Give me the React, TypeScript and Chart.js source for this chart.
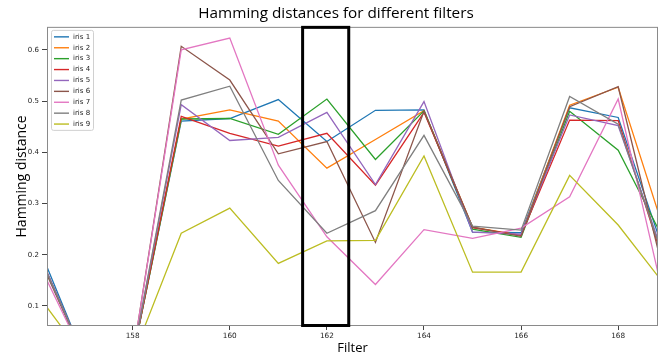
import React, { useEffect, useRef } from "react";
import { Chart, registerables } from "chart.js";

Chart.register(...registerables);

// ---- data ----
const filters = [156, 157, 158, 159, 160, 161, 162, 163, 164, 165, 166, 167, 168, 169];
const seriesLabels = ["iris 1", "iris 2", "iris 3", "iris 4", "iris 5", "iris 6", "iris 7", "iris 8", "iris 9"];
const iris1 = [0.23, 0, 0, 0.461, 0.466, 0.503, 0.421, 0.482, 0.483, 0.244, 0.243, 0.487, 0.468, 0.19];
const iris2 = [0.215, 0, 0, 0.465, 0.483, 0.461, 0.369, 0.425, 0.481, 0.254, 0.238, 0.492, 0.527, 0.231];
const iris3 = [0.215, 0, 0, 0.465, 0.466, 0.435, 0.504, 0.386, 0.481, 0.25, 0.234, 0.48, 0.404, 0.218];
const iris4 = [0.216, 0, 0, 0.47, 0.437, 0.412, 0.437, 0.336, 0.478, 0.253, 0.238, 0.463, 0.462, 0.167];
const iris5 = [0.218, 0, 0, 0.493, 0.423, 0.429, 0.478, 0.337, 0.499, 0.244, 0.24, 0.473, 0.452, 0.181];
const iris6 = [0.21, 0, 0, 0.607, 0.541, 0.397, 0.421, 0.224, 0.48, 0.254, 0.236, 0.489, 0.528, 0.14];
const iris7 = [0.196, 0, 0, 0.6, 0.623, 0.375, 0.235, 0.142, 0.249, 0.232, 0.252, 0.313, 0.504, 0.09];
const iris8 = [0.215, 0, 0, 0.502, 0.529, 0.345, 0.242, 0.286, 0.433, 0.256, 0.248, 0.509, 0.455, 0.175];
const iris9 = [0.127, 0, 0, 0.242, 0.291, 0.183, 0.227, 0.228, 0.393, 0.166, 0.166, 0.355, 0.258, 0.136];
const seriesValues = [iris1, iris2, iris3, iris4, iris5, iris6, iris7, iris8, iris9];
const xTickValues = [158, 160, 162, 164, 166, 168];
const yTickValues = [0.1, 0.2, 0.3, 0.4, 0.5, 0.6];
const highlightRange = [161.5, 162.45];

const colors = ["#1f77b4", "#ff7f0e", "#2ca02c", "#d62728", "#9467bd", "#8c564b", "#e377c2", "#7f7f7f", "#bcbd22"];

const overlayPlugin = {
  id: "overlay",
  afterDatasetsDraw(chart: any) {
    const { ctx, chartArea: a, scales } = chart;
    ctx.save();
    // spines
    ctx.strokeStyle = "#8a8a8a";
    ctx.lineWidth = 1;
    ctx.strokeRect(a.left + 0.5, a.top + 0.5, a.right - a.left - 1, a.bottom - a.top - 1);
    // highlight rectangle
    const x0 = scales.x.getPixelForValue(highlightRange[0]);
    const x1 = scales.x.getPixelForValue(highlightRange[1]);
    ctx.strokeStyle = "#000";
    ctx.lineWidth = 3;
    ctx.strokeRect(x0, a.top + 0.5, x1 - x0, a.bottom - a.top - 1);
    // legend
    const lx = a.left + 4, ly = a.top + 3, lw = 42, lh = 100;
    ctx.fillStyle = "rgba(255,255,255,0.85)";
    ctx.strokeStyle = "#d0d0d0";
    ctx.lineWidth = 1;
    ctx.beginPath();
    ctx.roundRect(lx + 0.5, ly + 0.5, lw, lh, 2);
    ctx.fill();
    ctx.stroke();
    ctx.font = "7px 'DejaVu Sans'";
    ctx.textBaseline = "middle";
    ctx.textAlign = "left";
    seriesLabels.forEach((label, i) => {
      const y = ly + 7 + i * 10.9;
      ctx.strokeStyle = colors[i];
      ctx.lineWidth = 1.4;
      ctx.beginPath();
      ctx.moveTo(lx + 3, y);
      ctx.lineTo(lx + 18, y);
      ctx.stroke();
      ctx.fillStyle = "#222";
      ctx.fillText(label, lx + 22, y);
    });
    ctx.restore();
  },
};

export default function App() {
  const canvasRef = useRef<HTMLCanvasElement | null>(null);

  useEffect(() => {
    document.body.style.margin = "0";
    const canvas = canvasRef.current;
    if (!canvas) return;
    const chart = new Chart(canvas, {
      type: "line",
      data: {
        datasets: seriesValues.map((vals, i) => ({
          label: seriesLabels[i],
          data: filters.map((f, j) => ({ x: f, y: vals[j] })),
          borderColor: colors[i],
          backgroundColor: colors[i],
          borderWidth: 1.3,
          pointRadius: 0,
          tension: 0,
          fill: false,
          order: seriesValues.length - 1 - i,
        })),
      },
      options: {
        animation: false,
        responsive: false,
        devicePixelRatio: 1,
        layout: { padding: { left: 14, right: 1, top: 0, bottom: 0 } },
        plugins: {
          legend: { display: false },
          tooltip: { enabled: false },
          title: {
            display: true,
            text: "Hamming distances for different filters",
            color: "#000",
            font: { family: "'Open Sans'", size: 15.3, weight: "normal" },
            padding: { top: 4, bottom: 4.5 },
          },
        },
        scales: {
          x: {
            type: "linear",
            min: 156.235,
            max: 168.82,
            afterBuildTicks: (scale: any) => {
              scale.ticks = xTickValues.map((v) => ({ value: v }));
            },
            afterFit: (scale: any) => {
              scale.height = 30;
            },
            grid: { display: true, drawOnChartArea: false, drawTicks: true, tickLength: 4, tickColor: "#444" },
            border: { display: false },
            ticks: { color: "#222", font: { family: "'DejaVu Sans'", size: 7.3 }, padding: 2, maxRotation: 0 },
            title: {
              display: true,
              text: "Filter",
              color: "#000",
              font: { family: "'Open Sans'", size: 13 },
              padding: { top: 0, bottom: 0 },
            },
          },
          y: {
            type: "linear",
            min: 0.0609,
            max: 0.6449,
            afterBuildTicks: (scale: any) => {
              scale.ticks = yTickValues.map((v) => ({ value: v }));
            },
            afterFit: (scale: any) => {
              scale.width = 33;
            },
            grid: { display: true, drawOnChartArea: false, drawTicks: true, tickLength: 5, tickColor: "#444" },
            border: { display: false },
            ticks: {
              color: "#222",
              font: { family: "'DejaVu Sans'", size: 7 },
              padding: 3,
              callback: (v: any) => Number(v).toFixed(1),
            },
            title: {
              display: true,
              text: "Hamming distance",
              color: "#000",
              font: { family: "'Open Sans'", size: 14 },
              padding: { top: 0, bottom: 0 },
            },
          },
        },
      },
      plugins: [overlayPlugin],
    });
    return () => chart.destroy();
  }, []);

  return (
    <div style={{ width: 659, height: 356, position: "relative", background: "#fff" }}>
      <canvas ref={canvasRef} width={659} height={356} style={{ display: "block" }} />
    </div>
  );
}
